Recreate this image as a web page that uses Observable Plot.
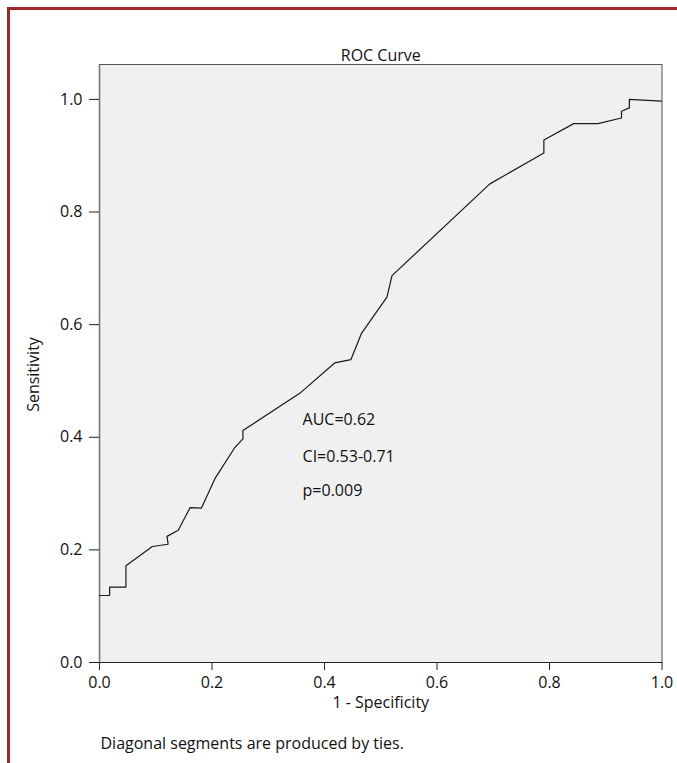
<!DOCTYPE html>
<html>
<head>
<meta charset="utf-8">
<script src="https://cdn.jsdelivr.net/npm/d3@7"></script>
<script src="https://cdn.jsdelivr.net/npm/@observablehq/plot@0.6"></script>
<style>
  html, body { margin: 0; padding: 0; background: #fff; overflow: hidden; }
  #wrap { position: relative; width: 677px; height: 763px; }
  #border { position: absolute; left: 7px; top: 7px; width: 700px; height: 800px;
            border-left: 3px solid #a3262c; border-top: 3px solid #a3262c; box-sizing: border-box; }
  #chart { position: absolute; left: 0; top: 0; }
</style>
</head>
<body>
<div id="wrap"><div id="border"></div><div id="chart"></div></div>
<script>
// ROC curve points (1 - Specificity, Sensitivity)
const fpr = [0, 0.018, 0.018, 0.047, 0.047, 0.094, 0.122, 0.120, 0.140, 0.161, 0.181, 0.206, 0.240, 0.255, 0.255, 0.356, 0.418, 0.447, 0.466, 0.511, 0.520, 0.694, 0.790, 0.790, 0.843, 0.886, 0.928, 0.928, 0.942, 0.942, 0.999];
const tpr = [0.119, 0.119, 0.134, 0.134, 0.172, 0.206, 0.210, 0.224, 0.235, 0.275, 0.274, 0.328, 0.381, 0.397, 0.412, 0.478, 0.532, 0.538, 0.585, 0.649, 0.687, 0.850, 0.905, 0.928, 0.957, 0.957, 0.967, 0.979, 0.985, 1.000, 0.997];
const xTicks = [0, 0.2, 0.4, 0.6, 0.8, 1.0];
const yTicks = [0, 0.2, 0.4, 0.6, 0.8, 1.0];
const title = "ROC Curve";
const xLabel = "1 - Specificity";
const yLabel = "Sensitivity";
const footnote = "Diagonal segments are produced by ties.";
const stats = ["AUC=0.62", "CI=0.53-0.71", "p=0.009"];

const points = fpr.map((x, i) => ({x, y: tpr[i]}));
const statPos = [0.430, 0.366, 0.3055];
const statRows = stats.map((t, i) => ({t, y: statPos[i]}));
const fmt = d3.format(".1f");

const chart = Plot.plot({
  width: 677,
  height: 763,
  marginLeft: 99,
  marginRight: 15.5,
  marginTop: 64,
  marginBottom: 101,
  x: {domain: [0, 1]},
  y: {domain: [0, 1.062]},
  style: {fontFamily: "'Open Sans', sans-serif", fontSize: "16px", background: "transparent", color: "#111"},
  marks: [
    Plot.frame({fill: "#f0f0f0", stroke: "#555"}),
    Plot.ruleX([0], {stroke: "#777", strokeWidth: 1.6}),
    Plot.ruleY([0], {stroke: "#222", strokeWidth: 1.2}),
    Plot.axisX({ticks: xTicks, tickFormat: fmt, tickSize: 8, tickPadding: 6, label: null, fontSize: 16, stroke: "#222"}),
    Plot.axisY({ticks: yTicks, tickFormat: fmt, tickSize: 10, tickPadding: 7, label: null, fontSize: 16, stroke: "#222"}),
    Plot.line(points, {x: "x", y: "y", stroke: "#1a1a1a", strokeWidth: 1.2}),
    Plot.text(statRows, {x: () => 0.361, y: "y", text: "t", textAnchor: "start", lineAnchor: "middle", fontSize: 16, fill: "#111"}),
    Plot.text([title], {frameAnchor: "top", lineAnchor: "middle", textAnchor: "middle", dy: -9, fontSize: 16, fill: "#111"}),
    Plot.text([xLabel], {frameAnchor: "bottom", lineAnchor: "middle", textAnchor: "middle", dy: 40, fontSize: 16, fill: "#111"}),
    Plot.text([yLabel], {frameAnchor: "left", lineAnchor: "middle", textAnchor: "middle", dx: -66, dy: 11, rotate: -90, fontSize: 16, fill: "#111"}),
    Plot.text([footnote], {frameAnchor: "bottom-left", lineAnchor: "middle", textAnchor: "start", dx: 1, dy: 81, fontSize: 16, fill: "#111"})
  ]
});
document.getElementById("chart").appendChild(chart);
</script>
</body>
</html>
